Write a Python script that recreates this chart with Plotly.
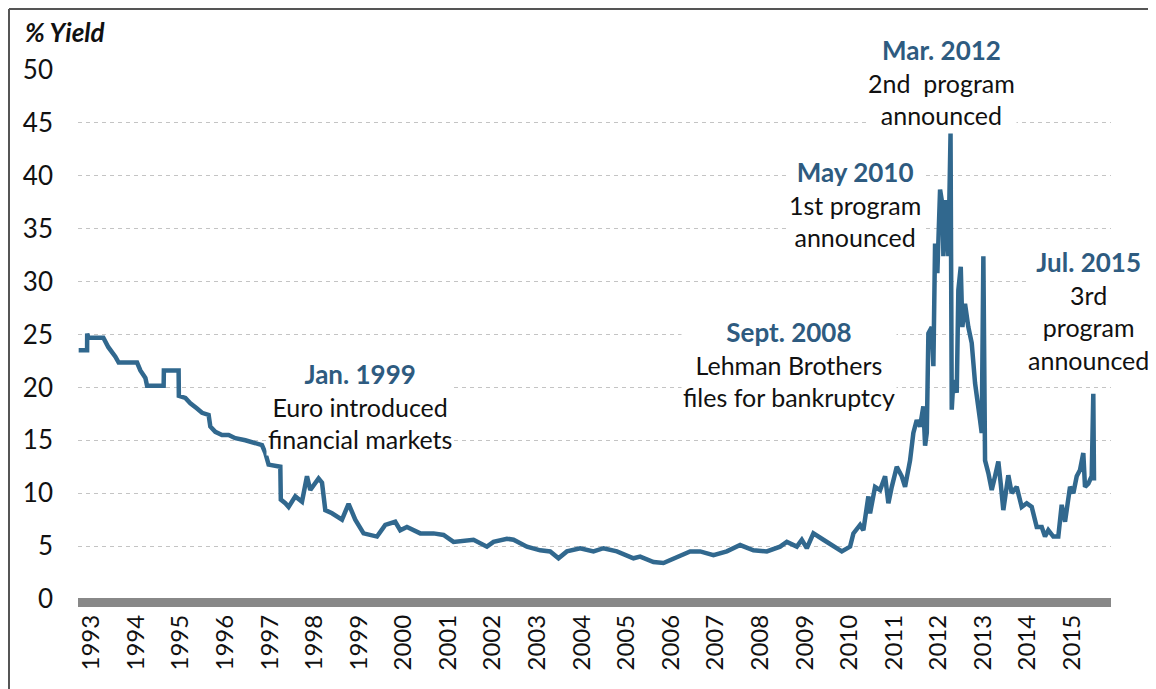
import plotly.graph_objects as go

# ---- data (decimal years, % yield) ----
years = [1992.715, 1992.904, 1992.906, 1992.93, 1993.269, 1993.381, 1993.538, 1993.612, 1994.025,
         1994.099, 1994.211, 1994.249, 1994.621, 1994.626, 1994.957, 1994.962, 1995.108, 1995.220,
         1995.370, 1995.482, 1995.630, 1995.668, 1995.780, 1995.930, 1996.078, 1996.229, 1996.453,
         1996.677, 1996.827, 1996.901, 1996.975, 1997.238, 1997.249, 1997.350, 1997.424, 1997.574,
         1997.724, 1997.836, 1997.910, 1998.096, 1998.173, 1998.247, 1998.397, 1998.621, 1998.769,
         1998.919, 1999.105, 1999.406, 1999.592, 1999.816, 1999.928, 2000.078, 2000.377, 2000.675,
         2000.899, 2001.123, 2001.424, 2001.572, 2001.872, 2002.020, 2002.321, 2002.469, 2002.769,
         2003.067, 2003.291, 2003.478, 2003.666, 2003.964, 2004.262, 2004.487, 2004.787, 2005.159,
         2005.309, 2005.608, 2005.832, 2006.056, 2006.430, 2006.655, 2006.953, 2007.253, 2007.552,
         2007.850, 2008.150, 2008.448, 2008.599, 2008.823, 2008.935, 2009.047, 2009.195, 2009.419,
         2009.643, 2009.832, 2010.018, 2010.092, 2010.242, 2010.316, 2010.428, 2010.466, 2010.578,
         2010.691, 2010.803, 2010.877, 2010.953, 2011.065, 2011.177, 2011.251, 2011.363, 2011.437,
         2011.513, 2011.587, 2011.661, 2011.700, 2011.738, 2011.774, 2011.850, 2011.886, 2011.924,
         2011.975, 2012.036, 2012.096, 2012.110, 2012.170, 2012.222, 2012.271, 2012.298, 2012.334,
         2012.410, 2012.446, 2012.500, 2012.536, 2012.596, 2012.670, 2012.746, 2012.821, 2012.933,
         2012.970, 2013.007, 2013.029, 2013.045, 2013.119, 2013.195, 2013.269, 2013.343, 2013.397,
         2013.455, 2013.567, 2013.643, 2013.755, 2013.867, 2013.979, 2014.092, 2014.204, 2014.316,
         2014.390, 2014.464, 2014.576, 2014.688, 2014.764, 2014.839, 2014.951, 2015.025, 2015.101,
         2015.175, 2015.249, 2015.287, 2015.361, 2015.437, 2015.473, 2015.489]
yield_pct = [23.5, 23.5, 25.1, 24.7, 24.7, 23.8, 22.9, 22.35, 22.35,
             21.6, 20.9, 20.16, 20.16, 21.6, 21.6, 19.2, 19.0, 18.5,
             18.0, 17.6, 17.4, 16.3, 15.8, 15.5, 15.5, 15.2, 15.0,
             14.7, 14.55, 13.8, 12.7, 12.5, 9.4, 9.05, 8.7, 9.7,
             9.2, 11.6, 10.3, 11.4, 11.0, 8.4, 8.1, 7.5, 9.0,
             7.5, 6.2, 5.9, 7.0, 7.3, 6.5, 6.8, 6.2, 6.2,
             6.05, 5.4, 5.6, 5.6, 4.95, 5.4, 5.7, 5.6, 4.95,
             4.6, 4.5, 3.85, 4.5, 4.8, 4.5, 4.8, 4.5, 3.85,
             4.0, 3.5, 3.4, 3.85, 4.5, 4.5, 4.15, 4.5, 5.1,
             4.6, 4.5, 4.95, 5.4, 4.95, 5.6, 4.8, 6.2, 5.6,
             4.95, 4.5, 4.95, 6.2, 7.0, 6.5, 9.7, 8.1, 10.6,
             10.3, 11.6, 9.05, 10.6, 12.5, 11.6, 10.6, 13.1, 15.7,
             16.9, 16.3, 18.2, 14.5, 15.7, 25.1, 25.7, 22.0, 33.6,
             30.8, 38.7, 37.1, 32.4, 37.7, 32.4, 44.0, 17.9, 20.7,
             19.5, 29.2, 31.4, 25.7, 27.9, 25.7, 24.2, 20.4, 16.9,
             15.7, 32.4, 15.7, 13.1, 11.9, 10.3, 11.6, 13.0, 10.9,
             8.4, 11.7, 10.0, 10.6, 8.7, 9.05, 8.7, 6.8, 6.8,
             5.9, 6.5, 5.9, 5.9, 8.9, 7.3, 10.6, 10.0, 11.6,
             12.2, 13.8, 10.6, 10.9, 11.6, 19.4, 11.2]

tick_years = list(range(1993, 2016))
tick_labels = [str(y) for y in tick_years]
y_ticks = list(range(0, 55, 5))

events_title = ["Jan. 1999", "Sept. 2008", "May 2010", "Mar. 2012", "Jul. 2015"]
events_text = ["Euro introduced<br>financial markets",
               "Lehman Brothers<br>files for bankruptcy",
               "1st program<br>announced",
               "2nd  program<br>announced",
               "3rd<br>program<br>announced"]
events_x = [1999.03, 2008.65, 2010.13, 2012.06, 2015.36]
events_y = [18.24, 22.2, 37.33, 48.9, 27.3]

LINE = "#31688E"
TITLE = "#2E5B80"
FONT = "Lato, 'Open Sans', sans-serif"

fig = go.Figure()
fig.add_trace(go.Scatter(x=years, y=yield_pct, mode="lines",
                         line=dict(color=LINE, width=4.5), hoverinfo="skip",
                         showlegend=False))

for t, s, x, y in zip(events_title, events_text, events_x, events_y):
    fig.add_annotation(x=x, y=y, xref="x", yref="y",
                       text=f"<b><span style='color:{TITLE};font-size:26px'>{t}</span></b><br>{s}",
                       showarrow=False, xanchor="center", yanchor="middle",
                       align="center", bgcolor="white", borderpad=1,
                       font=dict(family=FONT, size=25, color="#111111"))

fig.add_annotation(x=-0.053, y=1.072, xref="paper", yref="paper",
                   text="<b><i>% Yield</i></b>", showarrow=False,
                   xanchor="left", yanchor="middle",
                   font=dict(family=FONT, size=26, color="#111111"))

# thick grey axis bar at zero
fig.add_shape(type="rect", xref="paper", yref="paper", x0=0, x1=1,
              ysizemode="pixel", yanchor=0, y0=1, y1=-8,
              fillcolor="#888888", line=dict(width=0), layer="above")
# outer frame (top and left)
fig.add_shape(type="line", xref="paper", yref="paper", x0=-0.0668, x1=1.05,
              y0=1.1153, y1=1.1153, line=dict(color="#555555", width=2))
fig.add_shape(type="line", xref="paper", yref="paper", x0=-0.0668, x1=-0.0668,
              y0=-0.2, y1=1.1153, line=dict(color="#555555", width=2))

fig.update_layout(
    width=1148, height=681, autosize=False,
    margin=dict(l=70, r=45, t=62, b=90),
    paper_bgcolor="white", plot_bgcolor="white",
    font=dict(family=FONT, size=22, color="#111111"),
    xaxis=dict(range=[1992.70, 2015.87], tickvals=tick_years, ticktext=tick_labels,
               tickangle=-90, showgrid=False, zeroline=False, showline=False,
               ticks="", ticklabelstandoff=10,
               tickfont=dict(family=FONT, size=24, color="#111111")),
    yaxis=dict(range=[0, 50], tickvals=y_ticks, showgrid=True, gridcolor="#C4C4C4",
               griddash="4px,4px", gridwidth=1, zeroline=False, showline=False,
               ticks="", ticklabelstandoff=24,
               tickfont=dict(family=FONT, size=26, color="#111111")),
)

fig.write_html("out.html")
